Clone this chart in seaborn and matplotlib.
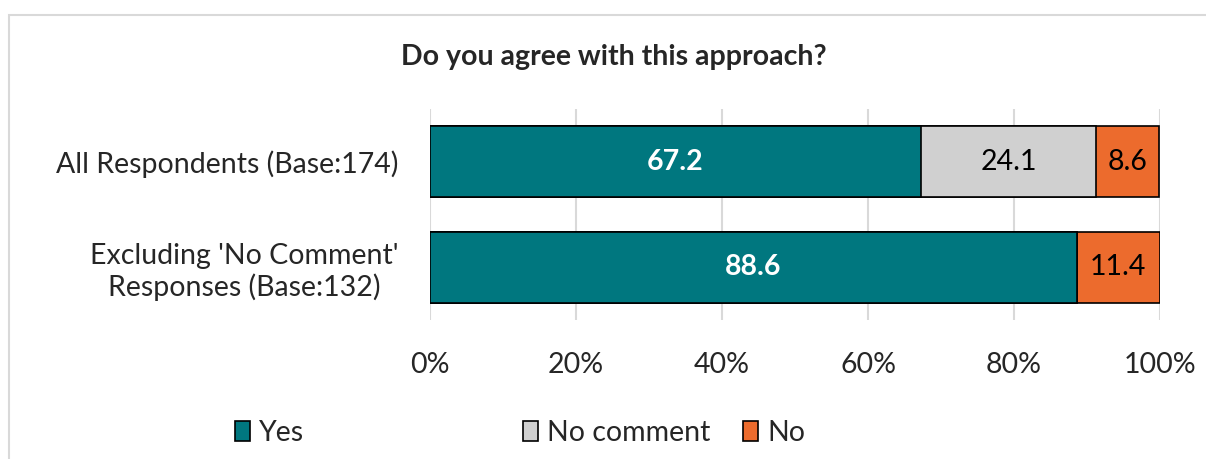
import matplotlib
matplotlib.use("Agg")
import matplotlib.pyplot as plt
import seaborn as sns
import pandas as pd
import numpy as np
from matplotlib.patches import Rectangle, Patch

categories = ["All Respondents (Base:174)", "Excluding 'No Comment'\nResponses (Base:132)"]
series = ["Yes", "No comment", "No"]
yes_vals = [67.2, 88.6]
nocomment_vals = [24.1, 0.0]
no_vals = [8.6, 11.4]
xtick_labels = ["0%", "20%", "40%", "60%", "80%", "100%"]
colors = {"Yes": "#00777F", "No comment": "#D0D0D0", "No": "#EC6B2D"}
label_colors = {"Yes": "white", "No comment": "black", "No": "black"}
label_weights = {"Yes": "bold", "No comment": "normal", "No": "normal"}

sns.set_theme(style="white")
plt.rcParams["font.family"] = ["Lato", "DejaVu Sans"]

FS = 20.5
W, H = 1206, 459
fig = plt.figure(figsize=(W / 100, H / 100), dpi=100)
ax = fig.add_axes([430 / W, 1 - 320 / H, 730 / W, 211 / H])

vals = {"Yes": np.array(yes_vals), "No comment": np.array(nocomment_vals), "No": np.array(no_vals)}
cum = {}
run = np.zeros(len(categories))
starts = {}
for s in series:
    starts[s] = run.copy()
    run = run + vals[s]
    cum[s] = run.copy()

# draw cumulative bars from the back (largest) to front
for s in reversed(series):
    df = pd.DataFrame({"cat": categories, "val": cum[s]})
    sns.barplot(data=df, x="val", y="cat", orient="h", color=colors[s],
                saturation=1, width=0.673, edgecolor="black", linewidth=1.2,
                ax=ax, zorder=3)

for s in series:
    for i in range(len(categories)):
        v = vals[s][i]
        if v <= 0:
            continue
        ax.text(starts[s][i] + v / 2, i, f"{v:.1f}", ha="center", va="center",
                color=label_colors[s], fontweight=label_weights[s], fontsize=FS, zorder=5)

ax.set_xlim(0, 100)
ax.set_ylim(1.5, -0.5)
ax.set_xticks(np.arange(0, 101, 20))
ax.set_xticklabels(xtick_labels)
ax.set_xlabel("")
ax.set_ylabel("")
ax.grid(axis="x", color="#D9D9D9", linewidth=1.5, zorder=0)
ax.set_axisbelow(True)
for sp in ax.spines.values():
    sp.set_visible(False)
ax.tick_params(axis="x", length=0, pad=23, labelsize=FS)
ax.tick_params(axis="y", length=0, pad=23, labelsize=FS)
for t in ax.get_yticklabels():
    t.set_multialignment("center")

fig.text(614 / W, 1 - 57 / H, "Do you agree with this approach?", ha="center", va="center",
         fontsize=FS, fontweight="bold")

# outer chart frame
fig.patches.append(Rectangle((9 / W, -0.2), 1.2, 1.2 - 15 / H, transform=fig.transFigure,
                             fill=False, edgecolor="#D9D9D9", linewidth=1.5))

legend_x = {"Yes": 236, "No comment": 524, "No": 744}
for s in series:
    fig.legend(handles=[Patch(facecolor=colors[s], edgecolor="black", linewidth=1.2, label=s)],
               loc="center left", bbox_to_anchor=(legend_x[s] / W - 0.001, 1 - 433 / H),
               frameon=False, fontsize=FS, handlelength=0.55, handleheight=0.75,
               handletextpad=0.3, borderpad=0, borderaxespad=0)

fig.savefig("out.png", dpi=100)
